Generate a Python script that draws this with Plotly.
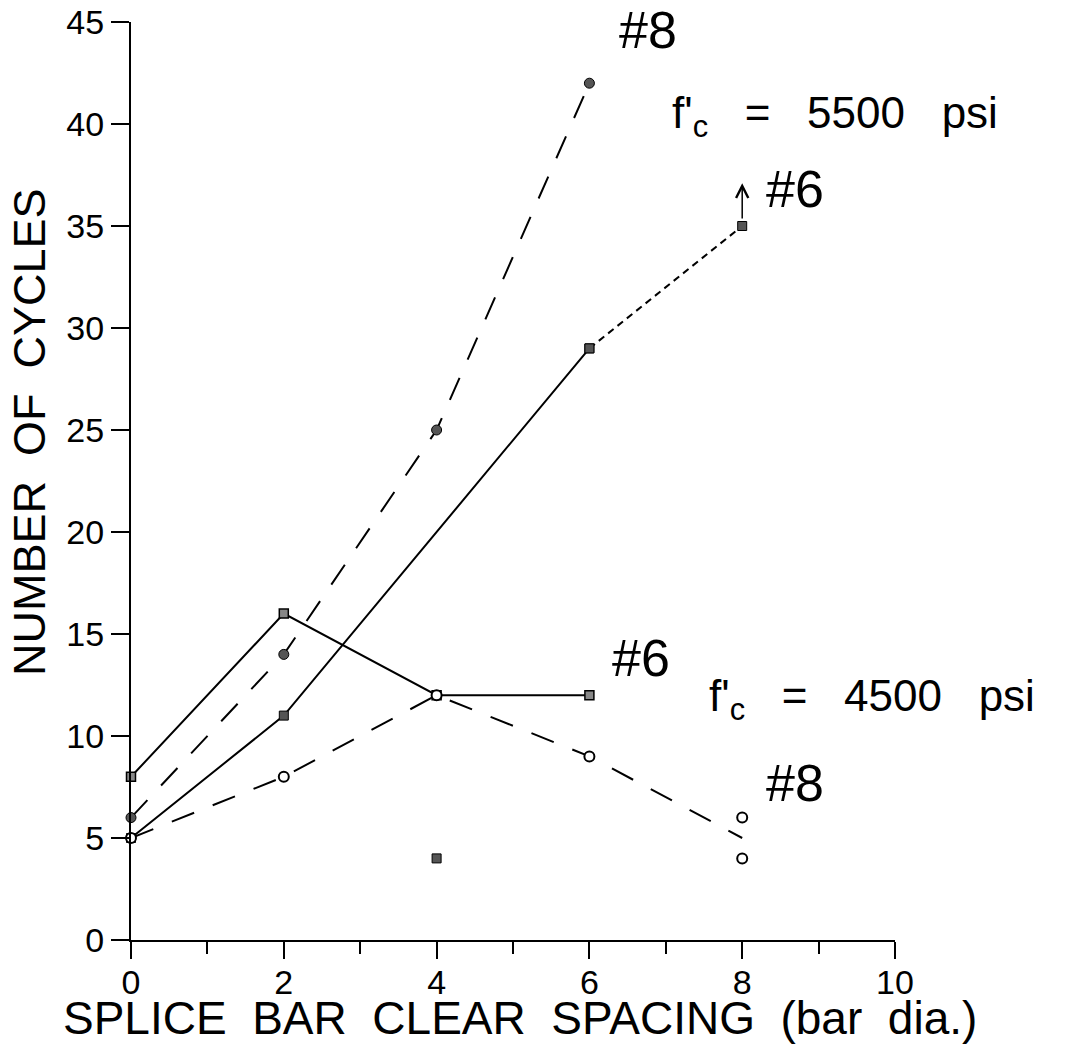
import plotly.graph_objects as go

# ---- data ----
x_5500_no8 = [0, 2, 4, 6]
y_5500_no8 = [6, 14, 25, 42]

x_5500_no6 = [0, 2, 6]
y_5500_no6 = [5, 11, 29]
x_5500_no6_ext = [6, 8]
y_5500_no6_ext = [29, 35]

x_4500_no6 = [0, 2, 4, 6]
y_4500_no6 = [8, 16, 12, 12]

x_4500_no8_line = [0, 2, 4, 6, 8]
y_4500_no8_line = [5, 8, 12, 9, 5]
x_4500_no8_pts = [0, 2, 4, 6, 8, 8]
y_4500_no8_pts = [5, 8, 12, 9, 6, 4]

x_extra = [4]
y_extra = [4]

x_ticks = [0, 2, 4, 6, 8, 10]
y_ticks = [0, 5, 10, 15, 20, 25, 30, 35, 40, 45]

FONT = "Liberation Sans, Arial, sans-serif"
BLK = "black"
FILL = "#555555"
DASH_LONG = "24px,20px"

fig = go.Figure()

# 5500 #8 : filled circles, long dash
fig.add_trace(go.Scatter(x=x_5500_no8, y=y_5500_no8, mode="lines+markers",
    line=dict(color=BLK, width=2, dash=DASH_LONG),
    marker=dict(symbol="circle", size=10, color=FILL, line=dict(color=BLK, width=1)),
    cliponaxis=False, showlegend=False))

# 5500 #6 : filled squares, solid
fig.add_trace(go.Scatter(x=x_5500_no6, y=y_5500_no6, mode="lines+markers",
    line=dict(color=BLK, width=2),
    marker=dict(symbol="square", size=9, color=FILL, line=dict(color=BLK, width=1)),
    cliponaxis=False, showlegend=False))
fig.add_trace(go.Scatter(x=x_5500_no6_ext, y=y_5500_no6_ext, mode="lines+markers",
    line=dict(color=BLK, width=2, dash="7px,5px"),
    marker=dict(symbol="square", size=9, color=FILL, line=dict(color=BLK, width=1)),
    cliponaxis=False, showlegend=False))

# 4500 #6 : squares, solid
fig.add_trace(go.Scatter(x=x_4500_no6, y=y_4500_no6, mode="lines+markers",
    line=dict(color=BLK, width=2),
    marker=dict(symbol="square", size=9, color="#888888", line=dict(color=BLK, width=1.5)),
    cliponaxis=False, showlegend=False))

# 4500 #8 : open circles, long dash
fig.add_trace(go.Scatter(x=x_4500_no8_line, y=y_4500_no8_line, mode="lines",
    line=dict(color=BLK, width=2, dash=DASH_LONG),
    cliponaxis=False, showlegend=False))
fig.add_trace(go.Scatter(x=x_4500_no8_pts, y=y_4500_no8_pts, mode="markers",
    marker=dict(symbol="circle", size=10, color="white", line=dict(color=BLK, width=2)),
    cliponaxis=False, showlegend=False))

# isolated filled square
fig.add_trace(go.Scatter(x=x_extra, y=y_extra, mode="markers",
    marker=dict(symbol="square", size=9, color=FILL, line=dict(color=BLK, width=1)),
    cliponaxis=False, showlegend=False))

# arrow (run-out) at last #6 point
fig.add_annotation(x=8, y=37.1, ax=8, ay=35.3, xref="x", yref="y", axref="x", ayref="y",
                   showarrow=True, arrowhead=5, arrowsize=1.6, arrowwidth=1.5,
                   arrowcolor=BLK, text="")

tf = dict(family=FONT, size=52, color=BLK)
lab = dict(family=FONT, size=44, color=BLK)
fig.add_annotation(x=6.77, y=44.6, xref="x", yref="y", text="#8", showarrow=False, font=tf)
fig.add_annotation(x=8.69, y=36.8, xref="x", yref="y", text="#6", showarrow=False, font=tf)
fig.add_annotation(x=6.68, y=13.8, xref="x", yref="y", text="#6", showarrow=False, font=tf)
fig.add_annotation(x=8.69, y=7.7, xref="x", yref="y", text="#8", showarrow=False, font=tf)
fig.add_annotation(x=7.05, y=40.4, xref="x", yref="y", xanchor="left", yanchor="middle",
                   text="f'<sub>c</sub>   =   5500   psi", showarrow=False, font=lab)
fig.add_annotation(x=7.54, y=11.8, xref="x", yref="y", xanchor="left", yanchor="middle",
                   text="f'<sub>c</sub>   =   4500   psi", showarrow=False, font=lab)

# axis titles
fig.add_annotation(x=-(131 - 29) / 764, y=(940 - 432) / 918, xref="paper", yref="paper",
                   xanchor="center", yanchor="middle", textangle=-90,
                   text="NUMBER  OF  CYCLES", showarrow=False,
                   font=dict(family=FONT, size=45, color=BLK))
fig.add_annotation(x=(520 - 131) / 764, y=-(1018 - 940) / 918, xref="paper", yref="paper",
                   xanchor="center", yanchor="middle",
                   text="SPLICE  BAR  CLEAR  SPACING  (bar  dia.)", showarrow=False,
                   font=dict(family=FONT, size=46, color=BLK))

fig.update_xaxes(range=[0, 10], tickvals=x_ticks, ticktext=[str(v) for v in x_ticks],
                 ticks="outside", ticklen=17, tickwidth=2, tickcolor=BLK,
                 minor=dict(dtick=1, ticks="outside", ticklen=12, tickwidth=2, tickcolor=BLK),
                 showline=True, linecolor=BLK, linewidth=2, showgrid=False, zeroline=False,
                 automargin=False, ticklabeloverflow="allow", ticklabelstandoff=-6,
                 tickfont=dict(family=FONT, size=34, color=BLK))
fig.update_yaxes(range=[0, 45], tickvals=y_ticks, ticktext=[str(v) for v in y_ticks],
                 ticks="outside", ticklen=18, tickwidth=2, tickcolor=BLK,
                 showline=True, linecolor=BLK, linewidth=2, showgrid=False, zeroline=False,
                 automargin=False, ticklabeloverflow="allow",
                 tickfont=dict(family=FONT, size=34, color=BLK))

# page body adds an ~8px offset, so margins are shifted to compensate
fig.update_layout(width=1070, height=1048, plot_bgcolor="white", paper_bgcolor="white",
                  margin=dict(l=123, r=183, t=14, b=116, autoexpand=False), showlegend=False)

fig.write_html("out.html")
